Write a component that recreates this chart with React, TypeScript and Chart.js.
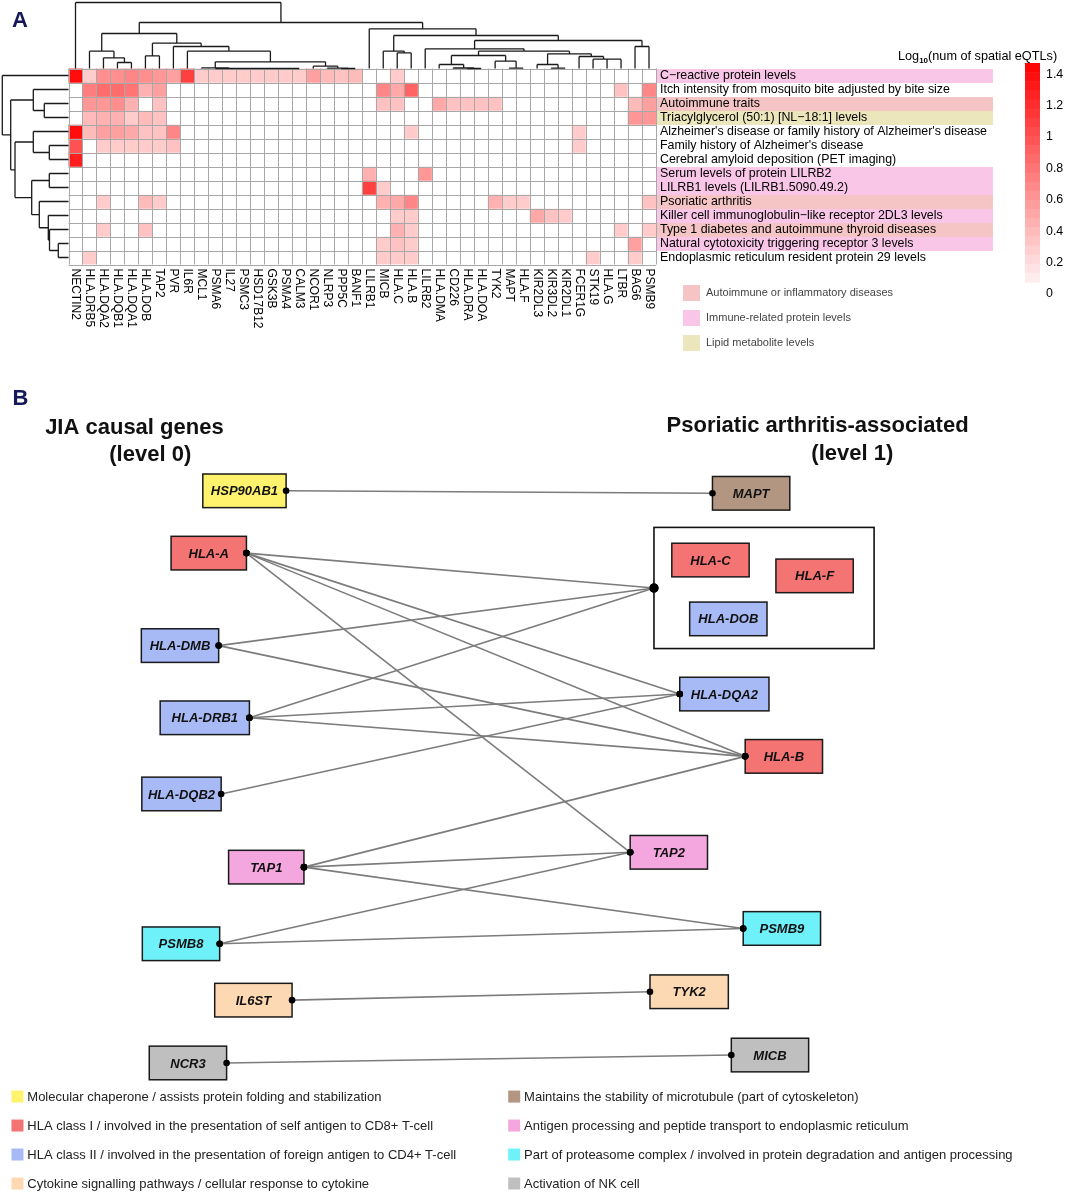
import React, { useEffect, useRef } from "react";
import { Chart, registerables } from "chart.js";
Chart.register(...registerables);

const FONT = '"Liberation Sans", Arial, Helvetica, sans-serif';

// ---------------- Panel A data ----------------
const genes = [
  "NECTIN2", "HLA.DRB5", "HLA.DQA2", "HLA.DQB1", "HLA.DQA1", "HLA.DOB", "TAP2", "PVR", "IL6R", "MCL1",
  "PSMA6", "IL27", "PSMC3", "HSD17B12", "GSK3B", "PSMA4", "CALM3", "NCOR1", "NLRP3", "PPP5C",
  "BANF1", "LILRB1", "MICB", "HLA.C", "HLA.B", "LILRB2", "HLA.DMA", "CD226", "HLA.DRA", "HLA.DOA",
  "TYK2", "MAPT", "HLA.F", "KIR2DL3", "KIR3DL2", "KIR2DL1", "FCER1G", "STK19", "HLA.G", "LTBR",
  "BAG6", "PSMB9",
];

const traits = [
  "C\u2212reactive protein levels",
  "Itch intensity from mosquito bite adjusted by bite size",
  "Autoimmune traits",
  "Triacylglycerol (50:1) [NL\u221218:1] levels",
  "Alzheimer's disease or family history of Alzheimer's disease",
  "Family history of Alzheimer's disease",
  "Cerebral amyloid deposition (PET imaging)",
  "Serum levels of protein LILRB2",
  "LILRB1 levels (LILRB1.5090.49.2)",
  "Psoriatic arthritis",
  "Killer cell immunoglobulin\u2212like receptor 2DL3 levels",
  "Type 1 diabetes and autoimmune thyroid diseases",
  "Natural cytotoxicity triggering receptor 3 levels",
  "Endoplasmic reticulum resident protein 29 levels",
];

// 0 = none, 1 = autoimmune/inflammatory, 2 = immune-related protein, 3 = lipid
const traitCategory = [2, 0, 1, 3, 0, 0, 0, 2, 2, 1, 2, 1, 2, 0];

const categoryNames = ["Autoimmune or inflammatory diseases", "Immune-related protein levels", "Lipid metabolite levels"];
const categoryColors = ["#F5C4C4", "#F9C6E8", "#ECE6BC"];

const heat: number[][] = [
  [1.4, 0.3, 0.65, 0.65, 0.7, 0.65, 0.6, 0.55, 1.1, 0.3, 0.3, 0.3, 0.3, 0.3, 0.3, 0.3, 0.3, 0.55, 0.4, 0.35, 0.4, 0, 0, 0.3, 0, 0, 0, 0, 0, 0, 0, 0, 0, 0, 0, 0, 0, 0, 0, 0, 0, 0],
  [0, 0.75, 0.85, 0.85, 0.8, 0.45, 0.55, 0, 0, 0, 0, 0, 0, 0, 0, 0, 0, 0, 0, 0, 0, 0, 0.7, 0.5, 0.9, 0, 0, 0, 0, 0, 0, 0, 0, 0, 0, 0, 0, 0, 0, 0.35, 0, 0.7],
  [0, 0.6, 0.6, 0.65, 0.45, 0, 0.35, 0, 0, 0, 0, 0, 0, 0, 0, 0, 0, 0, 0, 0, 0, 0, 0.35, 0.35, 0, 0, 0.5, 0.35, 0.35, 0.35, 0.35, 0, 0, 0, 0, 0, 0, 0, 0, 0, 0.4, 0.55],
  [0, 0.4, 0.45, 0.45, 0.3, 0.4, 0.35, 0, 0, 0, 0, 0, 0, 0, 0, 0, 0, 0, 0, 0, 0, 0, 0, 0, 0, 0, 0, 0, 0, 0, 0, 0, 0, 0, 0, 0, 0, 0, 0, 0, 0.6, 0.6],
  [1.4, 0.4, 0.55, 0.55, 0.5, 0.35, 0.35, 0.7, 0, 0, 0, 0, 0, 0, 0, 0, 0, 0, 0, 0, 0, 0, 0, 0, 0.3, 0, 0, 0, 0, 0, 0, 0, 0, 0, 0, 0, 0.3, 0, 0, 0, 0, 0],
  [1.0, 0, 0.3, 0.3, 0.3, 0.3, 0.3, 0.35, 0, 0, 0, 0, 0, 0, 0, 0, 0, 0, 0, 0, 0, 0, 0, 0, 0, 0, 0, 0, 0, 0, 0, 0, 0, 0, 0, 0, 0.3, 0, 0, 0, 0, 0],
  [1.3, 0, 0, 0, 0, 0, 0, 0, 0, 0, 0, 0, 0, 0, 0, 0, 0, 0, 0, 0, 0, 0, 0, 0, 0, 0, 0, 0, 0, 0, 0, 0, 0, 0, 0, 0, 0, 0, 0, 0, 0, 0],
  [0, 0, 0, 0, 0, 0, 0, 0, 0, 0, 0, 0, 0, 0, 0, 0, 0, 0, 0, 0, 0, 0.45, 0, 0, 0, 0.6, 0, 0, 0, 0, 0, 0, 0, 0, 0, 0, 0, 0, 0, 0, 0, 0],
  [0, 0, 0, 0, 0, 0, 0, 0, 0, 0, 0, 0, 0, 0, 0, 0, 0, 0, 0, 0, 0, 1.1, 0.3, 0, 0, 0, 0, 0, 0, 0, 0, 0, 0, 0, 0, 0, 0, 0, 0, 0, 0, 0],
  [0, 0, 0.3, 0, 0, 0.4, 0.3, 0, 0, 0, 0, 0, 0, 0, 0, 0, 0, 0, 0, 0, 0, 0, 0.45, 0.5, 0.7, 0, 0, 0, 0, 0, 0.45, 0.3, 0.3, 0, 0, 0, 0, 0, 0, 0, 0, 0.35],
  [0, 0, 0, 0, 0, 0, 0, 0, 0, 0, 0, 0, 0, 0, 0, 0, 0, 0, 0, 0, 0, 0, 0, 0.3, 0.3, 0, 0, 0, 0, 0, 0, 0, 0, 0.5, 0.35, 0.3, 0, 0, 0, 0, 0, 0],
  [0, 0, 0.3, 0, 0, 0.35, 0, 0, 0, 0, 0, 0, 0, 0, 0, 0, 0, 0, 0, 0, 0, 0, 0, 0.45, 0.3, 0, 0, 0, 0, 0, 0, 0, 0, 0, 0, 0, 0, 0, 0, 0.3, 0, 0.3],
  [0, 0, 0, 0, 0, 0, 0, 0, 0, 0, 0, 0, 0, 0, 0, 0, 0, 0, 0, 0, 0, 0, 0.3, 0.35, 0.3, 0, 0, 0, 0, 0, 0, 0, 0, 0, 0, 0, 0, 0, 0, 0, 0.55, 0],
  [0, 0.3, 0, 0, 0, 0, 0, 0, 0, 0, 0, 0, 0, 0, 0, 0, 0, 0, 0, 0, 0, 0, 0.3, 0.3, 0.3, 0, 0, 0, 0, 0, 0, 0, 0, 0, 0, 0, 0, 0.3, 0, 0, 0.3, 0],
];

const legendTicks = [0, 0.2, 0.4, 0.6, 0.8, 1, 1.2, 1.4];
const colorMax = 1.47;

// Dendrogram merges: [a, b, height]; a/b >= 0 are leaves, negative -(k+1) refers to merge k
const colMerges: [number, number, number][] = [
  [3, 4, 6], [2, -1, 10.7], [1, -2, 17.3], [5, 6, 12.7],
  [15, 16, 0], [14, -5, 0], [13, -6, 0], [12, -7, 0], [11, -8, 0], [10, -9, 0], [9, -10, 0.6],
  [19, 20, 0], [18, -12, 0.4], [17, -13, 2.3],
  [-11, -14, 6.7], [8, -15, 17.3], [7, -16, 22], [-4, -17, 25.3], [-3, -18, 35],
  [23, 24, 15.7], [22, -20, 17.3], [28, 29, 0], [27, -22, 0.5], [26, -23, 4],
  [31, 32, 0.3], [30, -25, 7.3], [-24, -26, 13], [34, 35, 0.3], [33, -28, 4],
  [38, 39, 9.3], [37, -30, 9.3], [36, -31, 12], [-29, -32, 14.7], [-27, -33, 17.3],
  [25, -34, 19.7], [40, 41, 22], [-35, -36, 28], [-21, -37, 33], [21, -38, 39.7],
  [-19, -39, 46], [0, -40, 66],
];

const rowMerges: [number, number, number][] = [
  [2, 3, 24.2], [1, -1, 35.2], [5, 6, 19.2], [4, -3, 35.2], [7, 8, 19.2],
  [12, 13, 10.2], [11, -6, 19], [10, -7, 20.2], [9, -8, 29.2], [-5, -9, 36.8],
  [-4, -10, 53.5], [-2, -11, 57.8], [0, -12, 66.2],
];

// ---------------- Panel B data ----------------
const nodeNames = ["HSP90AB1", "HLA-A", "HLA-DMB", "HLA-DRB1", "HLA-DQB2", "TAP1", "PSMB8", "IL6ST", "NCR3",
  "MAPT", "HLA-C", "HLA-F", "HLA-DOB", "HLA-DQA2", "HLA-B", "TAP2", "PSMB9", "TYK2", "MICB"];
const nodeLevel = [0, 0, 0, 0, 0, 0, 0, 0, 0, 1, 1, 1, 1, 1, 1, 1, 1, 1, 1];
const nodeFunction = [0, 1, 2, 2, 2, 5, 6, 3, 7, 4, 1, 1, 2, 2, 1, 5, 6, 3, 7];
const nodeX = [242, 206, 177, 202, 178.5, 264, 178, 251, 185, 753, 712, 817, 730, 726, 786, 670, 784, 690.5, 772];
const nodeY = [487.5, 550.5, 644, 717, 794, 868, 945.5, 1002.5, 1066, 490, 557.5, 573.5, 617, 693, 756, 853, 930, 994, 1058];
const nodeW = [84, 76, 78, 90, 80, 76, 78, 78, 78, 78, 78, 78, 78, 90, 78, 78, 78, 79, 78];
const groupMembers = ["HLA-C", "HLA-F", "HLA-DOB"];

const edgeFrom = ["HSP90AB1", "HLA-A", "HLA-A", "HLA-A", "HLA-A", "HLA-DMB", "HLA-DMB", "HLA-DRB1", "HLA-DRB1",
  "HLA-DRB1", "HLA-DQB2", "TAP1", "TAP1", "TAP1", "PSMB8", "PSMB8", "IL6ST", "NCR3"];
const edgeTo = ["MAPT", "GROUP", "HLA-DQA2", "HLA-B", "TAP2", "GROUP", "HLA-B", "GROUP", "HLA-DQA2",
  "HLA-B", "HLA-DQA2", "HLA-B", "TAP2", "PSMB9", "TAP2", "PSMB9", "TYK2", "MICB"];

const functionLabels = [
  "Molecular chaperone / assists protein folding and stabilization",
  "HLA class I / involved in the presentation of self antigen to CD8+ T-cell",
  "HLA class II / involved in the presentation of foreign antigen to CD4+ T-cell",
  "Cytokine signalling pathways / cellular response to cytokine",
  "Maintains the stability of microtubule (part of cytoskeleton)",
  "Antigen processing and peptide transport to endoplasmic reticulum",
  "Part of proteasome complex / involved in protein degradation and antigen processing",
  "Activation of NK cell",
];
const functionColors = ["#FFF36E", "#F47474", "#A8BAF5", "#FCD9B3", "#B39682", "#F4A6DE", "#6FF1FA", "#BFBFBF"];

// ---------------- helpers ----------------
const heatColor = (v: number) => {
  const t = Math.max(0, Math.min(1, v / colorMax));
  const g = Math.round(255 * (1 - t));
  return `rgb(255,${g},${g})`;
};

function drawDendro(
  ctx: CanvasRenderingContext2D,
  merges: [number, number, number][],
  leafPos: (i: number) => number,
  hPix: (h: number) => number,
  vertical: boolean
) {
  const pos: { c: number; h: number }[] = [];
  const get = (ref: number) => (ref >= 0 ? { c: leafPos(ref), h: 0 } : pos[-ref - 1]);
  ctx.beginPath();
  const seg = (c1: number, h1: number, c2: number, h2: number) => {
    if (vertical) {
      ctx.moveTo(c1, hPix(h1));
      ctx.lineTo(c2, hPix(h2));
    } else {
      ctx.moveTo(hPix(h1), c1);
      ctx.lineTo(hPix(h2), c2);
    }
  };
  merges.forEach(([a, b, h], k) => {
    const A = get(a);
    const B = get(b);
    seg(A.c, A.h, A.c, h);
    seg(B.c, B.h, B.c, h);
    seg(A.c, h, B.c, h);
    pos[k] = { c: (A.c + B.c) / 2, h };
  });
  ctx.stroke();
}

const panelAPlugin = {
  id: "panelA",
  afterDatasetsDraw(chart: any) {
    const ctx: CanvasRenderingContext2D = chart.ctx;
    const xs = chart.scales.x;
    const ys = chart.scales.y;
    const area = chart.chartArea;
    ctx.save();

    // grid
    ctx.strokeStyle = "#a8a8a8";
    ctx.lineWidth = 1;
    ctx.beginPath();
    for (let c = 0; c <= genes.length; c++) {
      const x = Math.round(xs.getPixelForValue(c - 0.5)) + 0.5;
      ctx.moveTo(x, area.top);
      ctx.lineTo(x, area.bottom);
    }
    for (let r = 0; r <= traits.length; r++) {
      const y = Math.round(ys.getPixelForValue(r)) + 0.5;
      ctx.moveTo(area.left, y);
      ctx.lineTo(area.right, y);
    }
    ctx.stroke();

    // dendrograms
    ctx.strokeStyle = "#1a1a1a";
    ctx.lineWidth = 1.3;
    drawDendro(ctx, colMerges, (i) => xs.getPixelForValue(i), (h) => area.top - h, true);
    drawDendro(ctx, rowMerges, (i) => ys.getPixelForValue(i + 0.5), (h) => area.left - h, false);

    // row labels with category bands
    ctx.font = `12.4px ${FONT}`;
    ctx.textBaseline = "middle";
    ctx.textAlign = "left";
    traits.forEach((t, r) => {
      const y0 = ys.getPixelForValue(r);
      const y1 = ys.getPixelForValue(r + 1);
      if (traitCategory[r] > 0) {
        ctx.fillStyle = categoryColors[traitCategory[r] - 1];
        ctx.fillRect(area.right + 1, y0 + 0.5, 993 - area.right - 1, y1 - y0);
      }
      ctx.fillStyle = "#000";
      ctx.fillText(t, area.right + 4, (y0 + y1) / 2 + 0.5);
    });

    // column labels rotated
    ctx.font = `12px ${FONT}`;
    genes.forEach((g, c) => {
      const x = xs.getPixelForValue(c);
      ctx.save();
      ctx.translate(x, area.bottom + 4);
      ctx.rotate(Math.PI / 2);
      ctx.textAlign = "left";
      ctx.textBaseline = "middle";
      ctx.fillStyle = "#000";
      ctx.fillText(g, 0, 0);
      ctx.restore();
    });

    // color bar
    const barX = 1025, barW = 15, barTop = 63, barBot = 282;
    const zeroY = 294, pxPerUnit = 157;
    const steps = 24;
    const stepH = (barBot - barTop) / steps;
    for (let i = 0; i < steps; i++) {
      const yTop = barTop + i * stepH;
      const v = (zeroY - (yTop + stepH / 2)) / pxPerUnit;
      ctx.fillStyle = heatColor(v);
      ctx.fillRect(barX, yTop, barW, stepH + 0.6);
    }
    ctx.fillStyle = "#000";
    ctx.font = `12.4px ${FONT}`;
    ctx.textAlign = "left";
    ctx.textBaseline = "middle";
    legendTicks.forEach((v) => {
      ctx.fillText(String(v), barX + 21, zeroY - v * pxPerUnit);
    });
    // title
    ctx.textBaseline = "alphabetic";
    ctx.font = `12.7px ${FONT}`;
    let tx = 898;
    const ty = 60;
    ctx.fillText("Log", tx, ty);
    tx += ctx.measureText("Log").width;
    ctx.font = `bold 8px ${FONT}`;
    ctx.fillText("10", tx, ty + 3);
    tx += ctx.measureText("10").width;
    ctx.font = `12.7px ${FONT}`;
    ctx.fillText("(num of spatial eQTLs)", tx, ty);

    // category legend
    ctx.font = `11px ${FONT}`;
    ctx.textBaseline = "middle";
    categoryNames.forEach((n, i) => {
      const cy = 293 + i * 25;
      ctx.fillStyle = categoryColors[i];
      ctx.fillRect(683, cy - 8, 17, 16);
      ctx.fillStyle = "#444";
      ctx.fillText(n, 706, cy);
    });

    // panel letter
    ctx.fillStyle = "#15195a";
    ctx.font = `bold 22px ${FONT}`;
    ctx.textAlign = "left";
    ctx.textBaseline = "middle";
    ctx.fillText("A", 12, 21);
    ctx.restore();
  },
};

const nodeIndex = (n: string) => nodeNames.indexOf(n);

function groupBox() {
  const idx = groupMembers.map(nodeIndex);
  const pad = [18, 21, 16, 13];
  const left = Math.min(...idx.map((i) => nodeX[i] - nodeW[i] / 2)) - pad[0];
  const right = Math.max(...idx.map((i) => nodeX[i] + nodeW[i] / 2)) + pad[1];
  const top = Math.min(...idx.map((i) => nodeY[i] - 17)) - pad[2];
  const bottom = Math.max(...idx.map((i) => nodeY[i] + 17)) + pad[3];
  return { left, right, top, bottom };
}

function anchor(name: string) {
  if (name === "GROUP") {
    const g = groupBox();
    return { x: g.left, y: (g.top + g.bottom) / 2 };
  }
  const i = nodeIndex(name);
  return nodeLevel[i] === 0 ? { x: nodeX[i] + nodeW[i] / 2, y: nodeY[i] } : { x: nodeX[i] - nodeW[i] / 2, y: nodeY[i] };
}

const panelBPlugin = {
  id: "panelB",
  beforeDatasetsDraw(chart: any) {
    const ctx: CanvasRenderingContext2D = chart.ctx;
    const xs = chart.scales.x;
    const ys = chart.scales.y;
    const X = (v: number) => xs.getPixelForValue(v);
    const Y = (v: number) => ys.getPixelForValue(v);
    ctx.save();

    ctx.fillStyle = "#15195a";
    ctx.font = `bold 22px ${FONT}`;
    ctx.textBaseline = "middle";
    ctx.textAlign = "left";
    ctx.fillText("B", X(8), Y(395));

    ctx.fillStyle = "#111";
    ctx.font = `bold 22px ${FONT}`;
    ctx.textAlign = "center";
    ctx.fillText("JIA causal genes", X(131), Y(424));
    ctx.fillText("(level 0)", X(147), Y(451));
    ctx.fillText("Psoriatic arthritis-associated", X(820), Y(422));
    ctx.fillText("(level 1)", X(855), Y(450));

    // group box
    const g = groupBox();
    ctx.strokeStyle = "#111";
    ctx.lineWidth = 1.6;
    ctx.fillStyle = "#fff";
    ctx.fillRect(X(g.left), Y(g.top), X(g.right) - X(g.left), Y(g.bottom) - Y(g.top));
    ctx.strokeRect(X(g.left), Y(g.top), X(g.right) - X(g.left), Y(g.bottom) - Y(g.top));

    // nodes
    nodeNames.forEach((n, i) => {
      const l = X(nodeX[i] - nodeW[i] / 2);
      const r = X(nodeX[i] + nodeW[i] / 2);
      const t = Y(nodeY[i] - 17);
      const b = Y(nodeY[i] + 17);
      ctx.fillStyle = functionColors[nodeFunction[i]];
      ctx.fillRect(l, t, r - l, b - t);
      ctx.strokeStyle = "#1a1a1a";
      ctx.lineWidth = 1.5;
      ctx.strokeRect(l, t, r - l, b - t);
      ctx.fillStyle = "#111";
      ctx.font = `italic bold 13px ${FONT}`;
      ctx.textAlign = "center";
      ctx.textBaseline = "middle";
      ctx.fillText(n, X(nodeX[i]), Y(nodeY[i]) + 1);
    });

    // legend
    ctx.font = `13px ${FONT}`;
    ctx.textAlign = "left";
    ctx.textBaseline = "middle";
    functionLabels.forEach((lab, i) => {
      const col = i < 4 ? 0 : 1;
      const row = i % 4;
      const cy = Y(1100 + row * 29.3);
      const sx = col === 0 ? 7 : 508;
      ctx.fillStyle = functionColors[i];
      ctx.fillRect(X(sx), cy - 6, 12, 12);
      ctx.fillStyle = "#222";
      ctx.fillText(lab, X(sx + 16), cy + 0.5);
    });
    ctx.restore();
  },
};

export default function App() {
  const refA = useRef<HTMLCanvasElement>(null);
  const refB = useRef<HTMLCanvasElement>(null);

  useEffect(() => {
    document.body.style.margin = "0";
    Chart.defaults.font.family = FONT;

    const chartA = new Chart(refA.current as HTMLCanvasElement, {
      type: "bar",
      data: {
        labels: genes,
        datasets: traits.map((t, r) => ({
          label: t,
          data: genes.map(() => [r, r + 1]) as any,
          backgroundColor: heat[r].map(heatColor),
          borderWidth: 0,
          barPercentage: 1,
          categoryPercentage: 1,
          grouped: false,
        })),
      },
      options: {
        responsive: false,
        animation: false,
        events: [],
        layout: { padding: { left: 68.5, right: 1065 - 656, top: 68.5, bottom: 380 - 264.5 } },
        plugins: { legend: { display: false }, tooltip: { enabled: false } },
        scales: {
          x: { type: "category", display: false, offset: true },
          y: { type: "linear", min: 0, max: traits.length, reverse: true, display: false },
        },
      },
      plugins: [panelAPlugin],
    } as any);

    const chartB = new Chart(refB.current as HTMLCanvasElement, {
      type: "scatter",
      data: {
        datasets: edgeFrom.map((f, i) => {
          const a = anchor(f);
          const b = anchor(edgeTo[i]);
          return {
            label: `${f}-${edgeTo[i]}`,
            data: [a, b],
            showLine: true,
            borderColor: "#7c7c7c",
            borderWidth: 1.6,
            pointRadius: [3.3, edgeTo[i] === "GROUP" ? 4.5 : 3.3],
            pointBackgroundColor: "#000",
            pointBorderWidth: 0,
          };
        }),
      },
      options: {
        responsive: false,
        animation: false,
        events: [],
        layout: { padding: 0 },
        plugins: { legend: { display: false }, tooltip: { enabled: false } },
        scales: {
          x: { type: "linear", min: 0, max: 1065, display: false },
          y: { type: "linear", min: 380, max: 1198, reverse: true, display: false },
        },
      },
      plugins: [panelBPlugin],
    } as any);

    return () => {
      chartA.destroy();
      chartB.destroy();
    };
  }, []);

  return (
    <div style={{ position: "relative", width: 1065, height: 1198, background: "#fff" }}>
      <canvas ref={refA} width={1065} height={380} style={{ position: "absolute", left: 0, top: 0, width: 1065, height: 380 }} />
      <canvas ref={refB} width={1065} height={818} style={{ position: "absolute", left: 0, top: 380, width: 1065, height: 818 }} />
    </div>
  );
}
